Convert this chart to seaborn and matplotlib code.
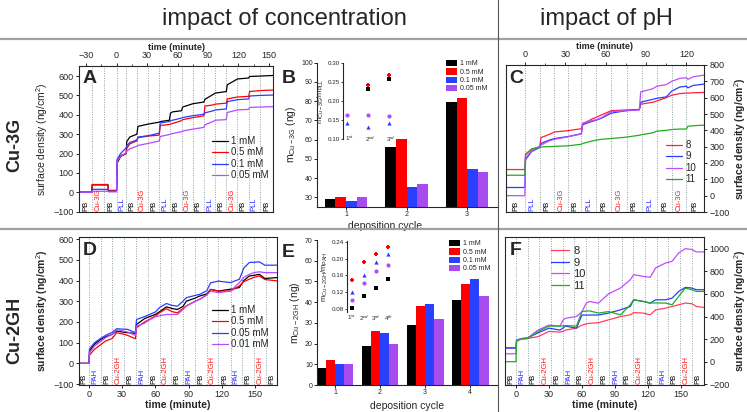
import numpy as np
import pandas as pd
import matplotlib
matplotlib.use("Agg")
import matplotlib.pyplot as plt
from matplotlib.lines import Line2D
from matplotlib.patches import Patch
import seaborn as sns

sns.set_style("ticks")
plt.rcParams['font.family'] = ['Liberation Sans', 'DejaVu Sans']
plt.rcParams['mathtext.fontset'] = 'custom'
plt.rcParams['mathtext.rm'] = 'Liberation Sans'
plt.rcParams['mathtext.it'] = 'Liberation Sans:italic'
plt.rcParams['mathtext.bf'] = 'Liberation Sans:bold'
plt.rcParams['axes.linewidth'] = 0.8

# ---------------- data ----------------
# A: Cu-3G, concentration series (QCM traces)
time_a = [-37, -24.5, -24, -8.5, -8, 0, 0.5, 4, 9.5, 10, 13, 20, 21, 31, 42, 43, 52,
          53, 55, 64, 65, 75, 86, 87, 96, 97, 108, 109, 119, 130, 131, 141, 154]
a_1mM = [0, 0, 38, 38, 8, 8, 150, 185, 200, 262, 285, 300, 340, 352, 362, 365, 372,
         408, 415, 421, 440, 457, 466, 480, 508, 512, 520, 555, 585, 590, 598, 600, 603]
a_05mM = [0, 0, 40, 40, 10, 10, 160, 190, 200, 225, 250, 265, 282, 290, 295, 345, 350,
          352, 355, 370, 375, 385, 395, 445, 452, 455, 460, 482, 492, 495, 520, 525, 528]
a_01mM = [0, 0, 15, 15, 5, 5, 170, 200, 230, 240, 257, 270, 285, 292, 305, 358, 365,
          369, 372, 383, 386, 395, 403, 410, 422, 425, 430, 468, 478, 482, 497, 500, 502]
a_005mM = [0, 0, 5, 5, 2, 2, 160, 185, 205, 212, 224, 238, 242, 252, 265, 288, 298,
           300, 303, 313, 316, 326, 335, 348, 368, 372, 375, 412, 425, 428, 438, 440, 442]
bounds_a = [-24, -12, 0, 9.5, 20, 31, 42, 53, 64, 75, 86, 97, 108, 119, 130, 141]
steps_a = ['PB', 'Cu-3G', 'PB', 'PLL', 'PB', 'Cu-3G', 'PB', 'PLL', 'PB', 'Cu-3G',
           'PB', 'PLL', 'PB', 'Cu-3G', 'PB', 'PLL', 'PB']

# B: adsorbed Cu-3G mass per cycle, and ratio inset
cycles_b = ['1', '2', '3']
conc_b = ['1 mM', '0.5 mM', '0.1 mM', '0.05 mM']
mass_b_1mM = [29.2, 56.4, 79.4]
mass_b_05mM = [30.2, 60.4, 81.5]
mass_b_01mM = [28.3, 35.2, 44.5]
mass_b_005mM = [30.2, 37.0, 43.0]
ratio_b_1mM = [np.nan, 0.231, 0.258]
ratio_b_05mM = [np.nan, 0.242, 0.268]
ratio_b_01mM = [0.143, 0.132, 0.142]
ratio_b_005mM = [0.163, 0.163, 0.160]

# C: Cu-3G, pH series
time_c = [-14, 0, 0.5, 5, 11, 12, 18, 22, 32, 42, 43, 50, 53, 57, 64, 75, 85, 86,
          95, 98, 105, 109, 115, 120, 121, 125, 133]
c_ph8 = [160, 160, 250, 285, 300, 355, 375, 390, 398, 410, 440, 470, 480, 495, 520,
         525, 527, 560, 572, 580, 600, 615, 625, 628, 628, 630, 632]
c_ph9 = [50, 50, 220, 270, 295, 320, 340, 350, 362, 380, 435, 455, 462, 475, 505,
         520, 528, 572, 590, 596, 605, 640, 665, 670, 660, 675, 683]
c_ph10 = [0, 0, 230, 275, 300, 310, 335, 345, 360, 378, 445, 460, 465, 478, 515,
          520, 525, 635, 655, 670, 680, 700, 718, 722, 712, 728, 738]
c_ph11 = [125, 125, 255, 285, 295, 298, 300, 302, 305, 315, 320, 335, 340, 345, 350,
          358, 370, 372, 385, 395, 400, 405, 408, 408, 425, 428, 432]
bounds_c = [0, 11, 22, 32, 42, 53, 64, 75.5, 87, 98, 109.5, 120]
steps_c = ['PB', 'PLL', 'PB', 'Cu-3G', 'PB', 'PLL', 'PB', 'Cu-3G', 'PB', 'PLL',
           'PB', 'Cu-3G', 'PB']

# D: Cu-2GH, concentration series
time_d = [-9, 0, 0.5, 5, 10.5, 15, 21, 25, 32, 35, 42, 43, 50, 53, 60, 64, 70, 75,
          80, 85, 88, 96, 100, 106.5, 110, 117, 128, 136, 140, 145, 149, 154, 159, 170]
d_1mM = [0, 0, 60, 92, 115, 128, 140, 156, 150, 148, 145, 188, 215, 222, 236, 250,
         273, 265, 260, 275, 300, 315, 325, 335, 357, 349, 358, 366, 400, 422, 425,
         430, 410, 414]
d_05mM = [0, 0, 40, 68, 90, 108, 120, 148, 140, 135, 119, 172, 199, 208, 228, 245,
          264, 250, 244, 265, 277, 300, 309, 330, 357, 349, 349, 374, 395, 406, 415,
          422, 405, 398]
d_005mM = [0, 0, 70, 100, 120, 135, 150, 167, 165, 164, 148, 212, 225, 232, 248, 270,
           289, 280, 276, 300, 317, 328, 333, 350, 389, 397, 390, 406, 460, 487, 488,
           490, 474, 474]
d_001mM = [0, 0, 50, 84, 105, 124, 140, 164, 155, 151, 135, 180, 193, 205, 225, 230,
           236, 236, 236, 260, 277, 300, 309, 330, 349, 341, 349, 390, 415, 430, 438,
           442, 438, 438]
bounds_d = [0, 10.5, 21, 32, 42.5, 53, 64, 74.5, 85, 96, 106.5, 117, 128, 138.5, 149, 160]
steps_d = ['PB', 'PAH', 'PB', 'Cu-2GH', 'PB', 'PAH', 'PB', 'Cu-2GH', 'PB', 'PAH',
           'PB', 'Cu-2GH', 'PB', 'PAH', 'PB', 'Cu-2GH', 'PB']

# E: adsorbed Cu-2GH mass per cycle, and ratio inset
cycles_e = ['1', '2', '3', '4']
conc_e = ['1 mM', '0.5 mM', '0.1 mM', '0.05 mM']
mass_e_1mM = [8, 19, 29, 41]
mass_e_05mM = [12, 26, 38, 49]
mass_e_01mM = [10, 25, 39, 51]
mass_e_005mM = [10, 20, 32, 43]
ratio_e_1mM = [0.082, 0.112, 0.131, 0.151]
ratio_e_05mM = [0.150, 0.191, 0.211, 0.228]
ratio_e_01mM = [0.121, 0.161, 0.191, 0.211]
ratio_e_005mM = [0.101, 0.141, 0.171, 0.185]

# F: Cu-2GH, pH series
time_f = [-10, 0, 0.5, 5, 10.5, 20, 30, 40, 43, 45, 55, 60, 64, 67, 75, 84, 95, 104,
          107, 116, 122, 127, 136, 142, 148, 154, 160, 164, 171]
f_ph8 = [125, 125, 190, 200, 205, 222, 268, 262, 270, 280, 297, 324, 335, 340, 345,
         370, 400, 415, 435, 430, 415, 459, 474, 489, 504, 519, 513, 489, 480]
f_ph9 = [120, 120, 190, 205, 210, 255, 297, 280, 300, 315, 297, 413, 413, 413, 413,
         430, 459, 489, 548, 533, 518, 548, 548, 563, 622, 658, 652, 637, 637]
f_ph10 = [70, 70, 190, 205, 210, 280, 324, 315, 370, 384, 400, 444, 520, 533, 518,
          600, 652, 726, 770, 755, 747, 830, 874, 889, 963, 1001, 993, 972, 972]
f_ph11 = [0, 0, 180, 200, 205, 267, 315, 315, 318, 320, 315, 444, 448, 450, 430,
          444, 415, 504, 548, 533, 520, 520, 519, 504, 578, 652, 637, 622, 622]

# ---------------- styling ----------------
W, H = 747, 412
conc_colors = ['#000000', '#ff0000', '#2a3cff', '#b24cff']
bar_colors = ['#000000', '#ff0000', '#2a40ff', '#a84cf0']
ph_colors_c = ['#ff2040', '#2a3cff', '#c04cff', '#1fae1f']
ph_colors_f = ['#ff4060', '#2a3cff', '#c04cff', '#1fae1f']
step_colors = {'PB': '#000000', 'PLL': '#2a2aff', 'PAH': '#2a2aff',
               'Cu-3G': '#ff1a1a', 'Cu-2GH': '#ff1a1a'}
grid_col = '#8fa0a0'
sd_label = 'surface density (ng/cm$^2$)'


def rect(x0, y0, x1, y1):
    return [x0 / W, 1 - y1 / H, (x1 - x0) / W, (y1 - y0) / H]


def trace_panel(ax, t, series, colors, bounds, steps, xlim, ylim, text_y):
    for b in bounds:
        ax.axvline(b, color=grid_col, ls=(0, (1, 1.5)), lw=0.7, zorder=0)
    for vals, col in zip(series, colors):
        sns.lineplot(x=t, y=vals, ax=ax, color=col, lw=0.9, estimator=None,
                     sort=False, legend=False)
    edges = [xlim[0]] + bounds + [xlim[1]]
    for i, s in enumerate(steps):
        xc = (edges[i] + edges[i + 1]) / 2
        ax.text(xc, text_y, s, rotation=90, ha='center', va='bottom',
                fontsize=5.5, color=step_colors[s])
    ax.set_xlim(*xlim)
    ax.set_ylim(*ylim)
    ax.tick_params(labelsize=6.5, length=2.5, width=0.7, pad=1.5)


def legend_lines(ax, labels, colors, x, y, fs):
    handles = [Line2D([], [], color=c, lw=0.9) for c in colors]
    ax.legend(handles, labels, loc='upper left', bbox_to_anchor=(x / W, 1 - y / H),
              bbox_transform=fig.transFigure, frameon=False, fontsize=fs,
              handlelength=1.6, handletextpad=0.4, labelspacing=0.15,
              borderpad=0, borderaxespad=0)


def bar_panel(ax, cycles, conc, masses, width):
    df = pd.DataFrame({'cycle': cycles * len(conc),
                       'conc': np.repeat(conc, len(cycles)),
                       'mass': np.concatenate(masses)})
    sns.barplot(data=df, x='cycle', y='mass', hue='conc', order=cycles,
                hue_order=conc, palette=bar_colors, saturation=1, width=width,
                gap=0, errorbar=None, linewidth=0, legend=False, ax=ax)
    sns.despine(ax=ax)
    ax.tick_params(labelsize=5, length=2, width=0.7, pad=1)
    ax.set_xlabel('deposition cycle', fontsize=7.5)


def bar_legend(ax, labels, x, y):
    handles = [Patch(facecolor=c, edgecolor='none') for c in bar_colors]
    ax.legend(handles, labels, loc='upper left', bbox_to_anchor=(x / W, 1 - y / H),
              bbox_transform=fig.transFigure, frameon=False, fontsize=5,
              handlelength=1.6, handleheight=1.0, handletextpad=0.4,
              labelspacing=0.12, borderpad=0, borderaxespad=0)


def ratio_inset(ax, ratios, ylim, yticks, ylabel, ticklabels, text_y=None):
    markers = ['s', 'P', '^', 'o']
    pos = np.arange(1, len(ratios[0]) + 1)
    for vals, col, mk in zip(ratios, conc_colors, markers):
        sns.scatterplot(x=pos, y=vals, marker=mk, color=col, s=9, linewidth=0,
                        ax=ax, legend=False)
    ax.set_ylim(*ylim)
    ax.set_yticks(yticks)
    ax.set_yticklabels(['%.2f' % v for v in yticks])
    ax.set_ylabel(ylabel, fontsize=5.5, labelpad=1)
    for s in ['top', 'right', 'bottom']:
        ax.spines[s].set_visible(False)
    ax.patch.set_alpha(0)
    ax.tick_params(axis='y', labelsize=4.5, length=1.5, width=0.6, pad=1)
    if text_y is None:
        ax.set_xticks(pos)
        ax.set_xticklabels(ticklabels)
        ax.tick_params(axis='x', labelsize=4.5, length=0, pad=1)
    else:
        ax.set_xticks([])
        for p, lab in zip(pos, ticklabels):
            ax.text(p + 0.1, text_y, lab, fontsize=4.5, ha='center', va='center')


fig = plt.figure(figsize=(W / 100, H / 100), dpi=100)

# titles and separators
fig.text(284 / W, 1 - 19 / H, 'impact of concentration', fontsize=17,
         ha='center', va='center')
fig.text(606 / W, 1 - 19 / H, 'impact of pH', fontsize=17, ha='center', va='center')
fig.add_artist(Line2D([0, 1], [1 - 39 / H] * 2, color='#9aa4a4', lw=1.6))
fig.add_artist(Line2D([0, 1], [1 - 229 / H] * 2, color='#9aa4a4', lw=1.6))
fig.add_artist(Line2D([498 / W] * 2, [0, 1], color='#555555', lw=0.8))
fig.text(15 / W, 1 - 145 / H, 'Cu-3G', rotation=90, fontsize=13,
         fontweight='bold', ha='center', va='center')
fig.text(15 / W, 1 - 330 / H, 'Cu-2GH', rotation=90, fontsize=13,
         fontweight='bold', ha='center', va='center')

# ---- A ----
axA = fig.add_axes(rect(79, 66, 273, 212))
trace_panel(axA, time_a, [a_1mM, a_05mM, a_01mM, a_005mM], conc_colors,
            bounds_a, steps_a, (-37, 154), (-102, 652), -97)
axA.xaxis.tick_top()
axA.xaxis.set_label_position('top')
axA.set_xticks(range(-30, 151, 30))
axA.set_xticks(range(-30, 151, 15), minor=True)
axA.tick_params(axis='x', which='minor', length=1.5, width=0.6)
axA.set_yticks(range(-100, 601, 100))
axA.set_xlabel('time (minute)', fontsize=6.5, fontweight='bold', labelpad=1)
axA.set_ylabel(sd_label, fontsize=7.5, labelpad=2)
legend_lines(axA, conc_b, conc_colors, 212, 136, 7)

# ---- B ----
axB = fig.add_axes(rect(317, 62.5, 498, 207))
bar_panel(axB, cycles_b, conc_b,
          [mass_b_1mM, mass_b_05mM, mass_b_01mM, mass_b_005mM], 0.7)
axB.set_xlim(-0.48, 2.51)
axB.set_ylim(25, 100)
axB.set_yticks(range(30, 101, 10))
axB.set_ylabel('m$_{\\mathrm{Cu-3G}}$ (ng)', fontsize=7.5, labelpad=2)
axB.xaxis.set_label_coords(0.376, -0.098)
bar_legend(axB, conc_b, 446, 60)

axBi = fig.add_axes(rect(343, 63, 396, 139))
ratio_inset(axBi, [ratio_b_1mM, ratio_b_05mM, ratio_b_01mM, ratio_b_005mM],
            (0.10, 0.30), [0.10, 0.15, 0.20, 0.25, 0.30],
            'm$_{\\mathrm{Cu-3G}}$/m$_{\\mathrm{PLL}}$',
            ['1$^{st}$', '2$^{nd}$', '3$^{rd}$'], text_y=0.10)
axBi.set_xlim(0.8, 3.35)

# ---- C ----
axC = fig.add_axes(rect(506, 65, 704, 212))
trace_panel(axC, time_c, [c_ph8, c_ph9, c_ph10, c_ph11], ph_colors_c,
            bounds_c, steps_c, (-14, 133), (-100, 800), -96)
axC.xaxis.tick_top()
axC.xaxis.set_label_position('top')
axC.set_xticks(range(0, 121, 30))
axC.set_xticks(range(0, 131, 15), minor=True)
axC.tick_params(axis='x', which='minor', length=1.5, width=0.6)
axC.yaxis.tick_right()
axC.yaxis.set_label_position('right')
axC.set_yticks(range(-100, 801, 100))
axC.set_xlabel('time (minute)', fontsize=6.5, fontweight='bold', labelpad=1)
axC.set_ylabel(sd_label, fontsize=7.5, fontweight='bold', labelpad=2)
legend_lines(axC, ['8', '9', '10', '11'], ph_colors_c, 666, 140, 7)

# ---- D ----
axD = fig.add_axes(rect(79, 237, 277, 384.5))
trace_panel(axD, time_d, [d_1mM, d_05mM, d_005mM, d_001mM], conc_colors,
            bounds_d, steps_d, (-9, 170), (-102, 610), -98)
axD.set_xticks(range(0, 151, 30))
axD.set_yticks(range(-100, 601, 100))
axD.set_xlabel('time (minute)', fontsize=7.5, fontweight='bold', labelpad=1)
axD.set_ylabel(sd_label, fontsize=7.5, fontweight='bold', labelpad=2)
legend_lines(axD, ['1 mM', '0.5 mM', '0.05 mM', '0.01 mM'], conc_colors, 212, 305, 7)

# ---- E ----
axE = fig.add_axes(rect(317, 240, 498, 385))
bar_panel(axE, cycles_e, conc_e,
          [mass_e_1mM, mass_e_05mM, mass_e_01mM, mass_e_005mM], 0.82)
axE.set_xlim(-0.4, 3.62)
axE.set_ylim(0, 70)
axE.set_yticks(range(0, 71, 10))
axE.set_ylabel('m$_{\\mathrm{Cu-2GH}}$ (ng)', fontsize=7.5, labelpad=2)
axE.xaxis.set_label_coords(0.5, -0.11)
bar_legend(axE, conc_e, 449, 240)

axEi = fig.add_axes(rect(347, 241, 395, 312))
ratio_inset(axEi, [ratio_e_1mM, ratio_e_05mM, ratio_e_01mM, ratio_e_005mM],
            (0.073, 0.242), [0.08, 0.12, 0.16, 0.20, 0.24],
            'm$_{\\mathrm{Cu-2GH}}$/m$_{\\mathrm{PAH}}$',
            ['1$^{st}$', '2$^{nd}$', '3$^{rd}$', '4$^{th}$'])
axEi.set_xlim(0.615, 4.55)

# ---- F ----
axF = fig.add_axes(rect(505, 237, 704, 384.5))
trace_panel(axF, time_f, [f_ph8, f_ph9, f_ph10, f_ph11], ph_colors_f,
            bounds_d, steps_d, (-10, 171), (-202, 1104), -196)
axF.set_xticks(range(0, 151, 30))
axF.yaxis.tick_right()
axF.yaxis.set_label_position('right')
axF.set_yticks(range(-200, 1001, 200))
axF.set_xlabel('time (minute)', fontsize=7.5, fontweight='bold', labelpad=1)
axF.set_ylabel(sd_label, fontsize=7.5, fontweight='bold', labelpad=2)
legend_lines(axF, ['8', '9', '10', '11'], ph_colors_f, 551, 246, 8)

# panel letters
for letter, x, y in [('A', 83, 70), ('B', 282, 70), ('C', 509, 70),
                     ('D', 83, 242), ('E', 282, 244), ('F', 510, 242)]:
    fig.text(x / W, 1 - y / H, letter, fontsize=14, fontweight='bold', va='top')

fig.savefig('out.png', dpi=100)
